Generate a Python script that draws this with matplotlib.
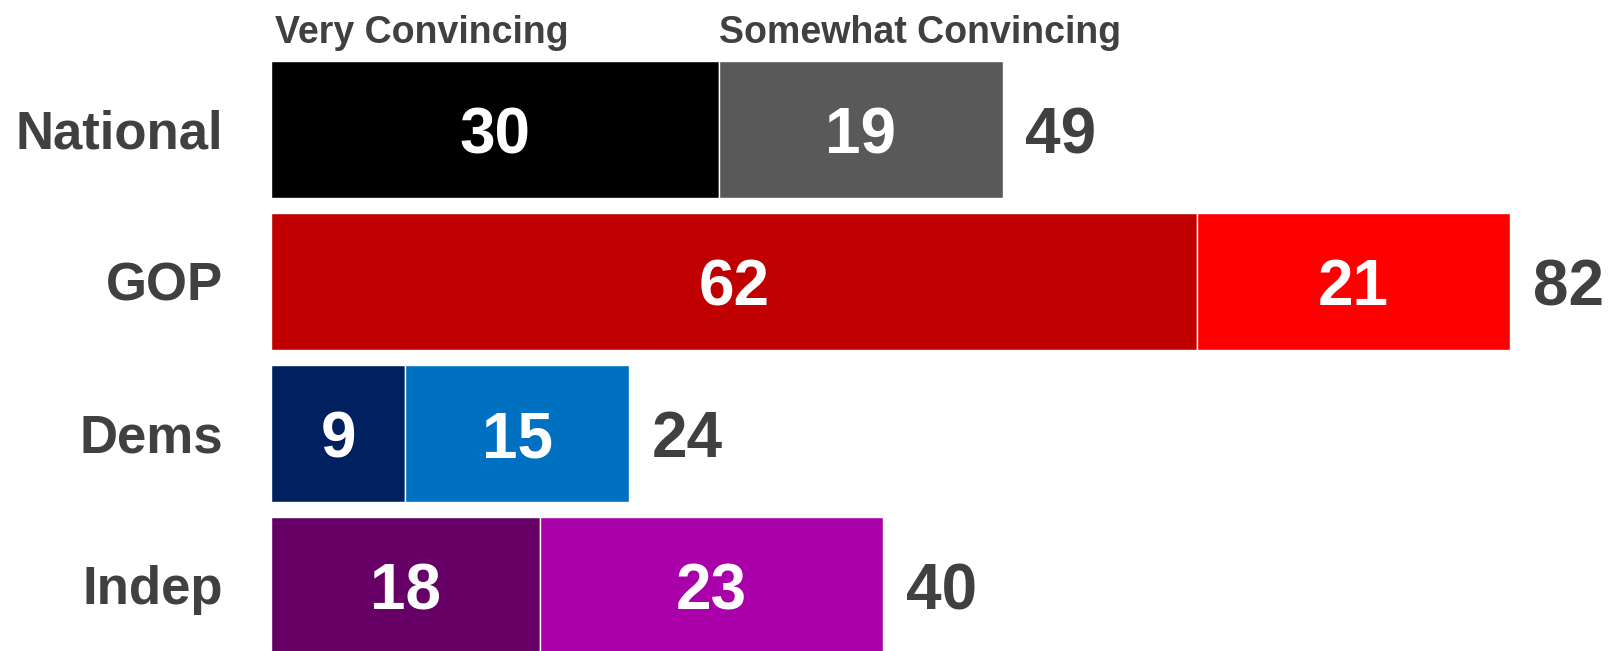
import matplotlib.pyplot as plt
import numpy as np

plt.rcParams['font.family'] = ['Liberation Sans', 'DejaVu Sans']
plt.rcParams['font.weight'] = 'bold'

groups = ['National', 'GOP', 'Dems', 'Indep']
very = [30, 62, 9, 18]
somewhat = [19, 21, 15, 23]
totals = [49, 82, 24, 40]
headers = ['Very Convincing', 'Somewhat Convincing']

very_colors = ['#000000', '#C00000', '#002060', '#660066']
some_colors = ['#595959', '#FF0000', '#0070C0', '#AA00AA']
dark = '#404040'

fig = plt.figure(figsize=(16.11, 6.51), dpi=100)
ax = fig.add_axes([0, 0, 1, 1])

y = np.arange(len(groups))
h = 0.895
ax.barh(y, very, height=h, color=very_colors, edgecolor='white', linewidth=1)
ax.barh(y, somewhat, left=very, height=h, color=some_colors, edgecolor='white', linewidth=1)

# baseline offsets (in row units) so the glyphs sit centred on each bar
num_off = 0.155
lab_off = 0.125

for i in range(len(groups)):
    ax.text(-3.2, y[i] + lab_off, groups[i], ha='right', va='baseline', fontsize=38, color=dark)
    ax.text(very[i] / 2, y[i] + num_off, str(very[i]), ha='center', va='baseline',
            fontsize=46, color='white')
    ax.text(very[i] + somewhat[i] / 2, y[i] + num_off, str(somewhat[i]), ha='center',
            va='baseline', fontsize=46, color='white')
    ax.text(very[i] + somewhat[i] + 1.5, y[i] + num_off, str(totals[i]), ha='left',
            va='baseline', fontsize=46, color=dark)

# column headers sit over the National segments
ax.text(0.3, -0.571, headers[0], ha='left', va='baseline', fontsize=27, color=dark)
ax.text(very[0], -0.571, headers[1], ha='left', va='baseline', fontsize=27, color=dark)

ax.set_xlim(-18.15, 89.75)
ax.set_ylim(3.431, -0.852)
ax.axis('off')

fig.savefig('out.png', dpi=100, facecolor='white')
